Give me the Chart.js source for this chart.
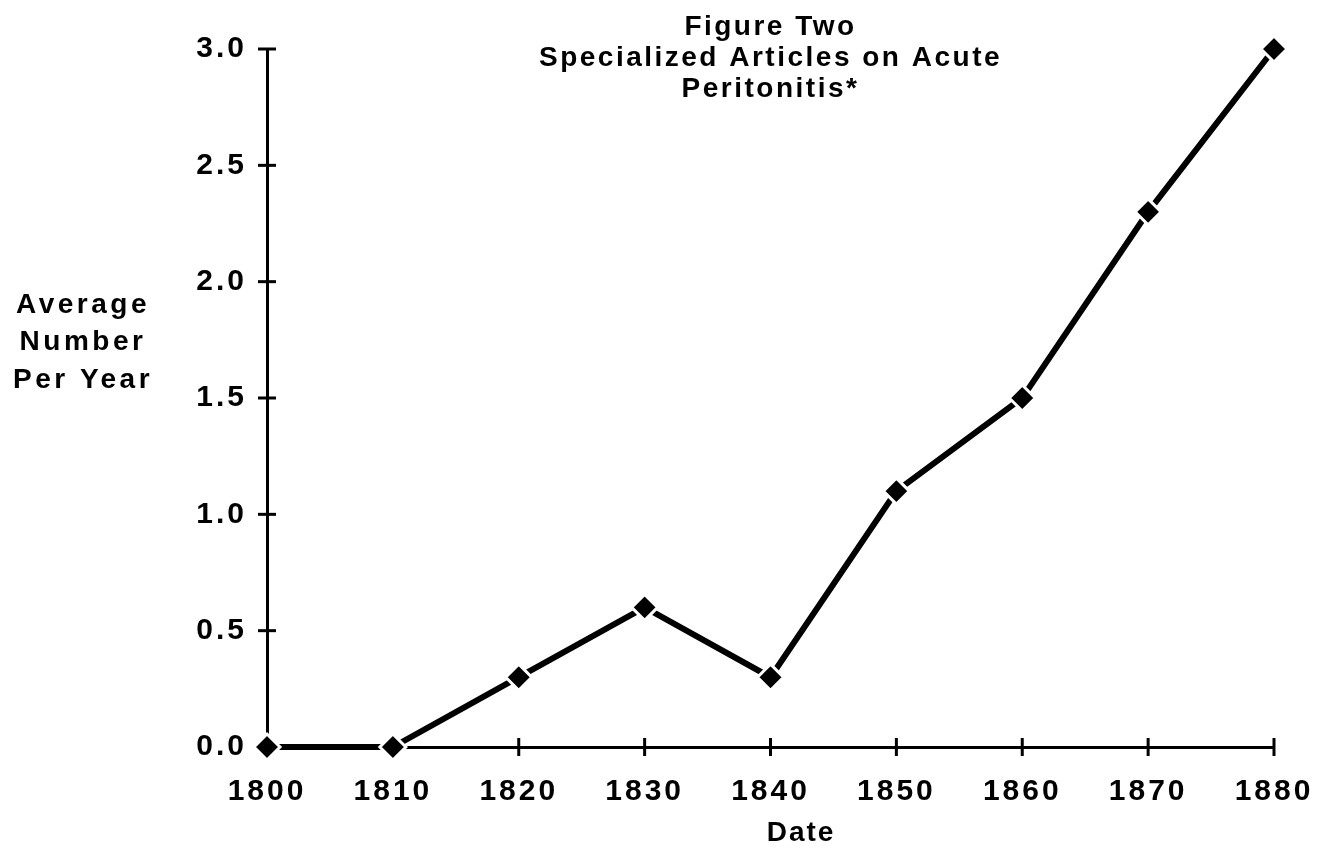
<!DOCTYPE html>
<html>
<head>
<meta charset="utf-8">
<script src="https://cdn.jsdelivr.net/npm/chart.js@4.4.1/dist/chart.umd.min.js"></script>
<style>
  html, body { margin: 0; padding: 0; background: #fff; }
  #wrap { width: 1327px; height: 854px; }
</style>
</head>
<body>
<div id="wrap"><canvas id="chart" width="1327" height="854"></canvas></div>
<script>
// data
const years = [1800, 1810, 1820, 1830, 1840, 1850, 1860, 1870, 1880];
const avgPerYear = [0, 0, 0.3, 0.6, 0.3, 1.1, 1.5, 2.3, 3.0];
const yTicks = [0, 0.5, 1.0, 1.5, 2.0, 2.5, 3.0];

const titleLines = ["Figure Two", "Specialized Articles on Acute", "Peritonitis*"];
const yTitleLines = ["Average", "Number", "Per Year"];
const xTitle = "Date";

const FONT = '"Liberation Sans", Arial, sans-serif';

// letter spacing for every bit of text, like the old typewriter-ish font
const spacing = {
  id: "spacing",
  beforeDraw(chart) {
    chart.ctx.letterSpacing = "3px";
  }
};

// tick marks that cross the axis lines, and the hand-placed labels
const decorations = {
  id: "decorations",
  afterDraw(chart) {
    const ctx = chart.ctx;
    const xs = chart.scales.x;
    const ys = chart.scales.y;
    const area = chart.chartArea;
    ctx.save();
    ctx.strokeStyle = "#000";
    ctx.lineWidth = 3;
    years.forEach((yr) => {
      if (yr === years[0]) return;
      const px = xs.getPixelForValue(yr);
      ctx.beginPath();
      ctx.moveTo(px, area.bottom - 9);
      ctx.lineTo(px, area.bottom + 9);
      ctx.stroke();
    });
    yTicks.forEach((v) => {
      if (v === 0) return;
      const py = ys.getPixelForValue(v);
      ctx.beginPath();
      ctx.moveTo(area.left - 9, py);
      ctx.lineTo(area.left + 9, py);
      ctx.stroke();
    });

    ctx.fillStyle = "#000";
    ctx.textAlign = "center";
    ctx.textBaseline = "alphabetic";
    ctx.font = "bold 28px " + FONT;
    const cx = (area.left + area.right) / 2;
    const tBase = [35, 66, 97];
    ctx.letterSpacing = "2.5px";
    titleLines.forEach((t, i) => ctx.fillText(t, cx, tBase[i]));

    const yBase = [313, 350, 388];
    ctx.letterSpacing = "3.5px";
    yTitleLines.forEach((t, i) => ctx.fillText(t, 83, yBase[i]));

    ctx.letterSpacing = "2px";
    ctx.fillText(xTitle, 801, 841);
    ctx.restore();
  }
};

new Chart(document.getElementById("chart"), {
  type: "line",
  data: {
    datasets: [{
      data: years.map((yr, i) => ({ x: yr, y: avgPerYear[i] })),
      borderColor: "#000",
      borderWidth: 6,
      pointStyle: "rectRot",
      pointRadius: 13,
      pointBackgroundColor: "#000",
      pointBorderColor: "#fff",
      pointBorderWidth: 3,
      tension: 0,
      clip: false
    }]
  },
  options: {
    responsive: false,
    animation: false,
    events: [],
    layout: { padding: { left: 0, right: 53, top: 49, bottom: 0 } },
    plugins: {
      legend: { display: false },
      title: { display: false },
      tooltip: { enabled: false }
    },
    scales: {
      x: {
        type: "linear",
        min: 1800,
        max: 1880,
        grid: { display: false },
        border: { display: true, color: "#000", width: 3 },
        afterFit(scale) { scale.height = 107; },
        ticks: {
          stepSize: 10,
          color: "#000",
          padding: 19,
          maxRotation: 0,
          font: { family: FONT, size: 30, weight: "bold" },
          callback: (v) => String(v)
        }
      },
      y: {
        min: 0,
        max: 3,
        grid: { display: false },
        border: { display: true, color: "#000", width: 3 },
        afterFit(scale) { scale.width = 267; },
        ticks: {
          stepSize: 0.5,
          color: "#000",
          padding: 12,
          font: { family: FONT, size: 30, weight: "bold" },
          callback: (v) => Number(v).toFixed(1)
        }
      }
    }
  },
  plugins: [spacing, decorations]
});
</script>
</body>
</html>
